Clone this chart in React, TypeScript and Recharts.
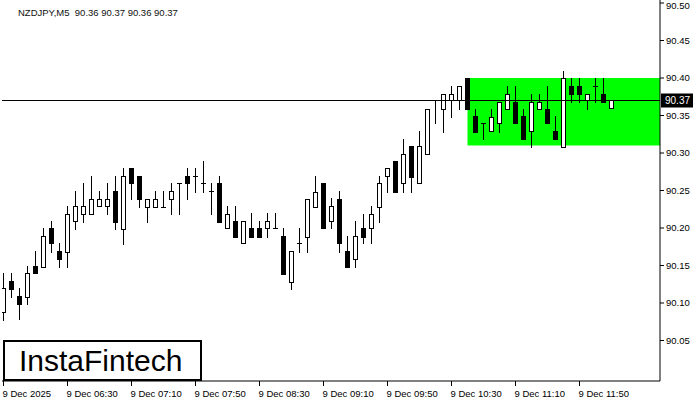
import React from 'react';
import { ComposedChart, Bar, XAxis, YAxis, ReferenceArea, ReferenceLine } from 'recharts';

const symbol = 'NZDJPY,M5';
const lastQuote = ['90.36', '90.37', '90.36', '90.37'];

// M5 candles, 05:50 .. 12:10
const opens = [
  90.088, 90.129, 90.109, 90.108, 90.149, 90.148, 90.2, 90.169, 90.168, 90.209,
  90.219, 90.219, 90.229, 90.229, 90.249, 90.199, 90.28, 90.269, 90.228, 90.228,
  90.228, 90.239, 90.26, 90.269, 90.269, 90.26, 90.249, 90.26, 90.2, 90.209,
  90.18, 90.2, 90.2, 90.2, 90.2, 90.189, 90.128, 90.18, 90.188, 90.228,
  90.26, 90.209, 90.239, 90.169, 90.159, 90.2, 90.2, 90.228, 90.269, 90.289,
  90.26, 90.309, 90.26, 90.299, 90.37, 90.359, 90.37, 90.37, 90.4, 90.349,
  90.34, 90.329, 90.34, 90.359, 90.368, 90.349, 90.329, 90.359, 90.359, 90.329,
  90.308, 90.389, 90.389, 90.37, 90.389, 90.379, 90.36,
];
const highs = [
  90.14, 90.14, 90.12, 90.149, 90.169, 90.2, 90.209, 90.18, 90.229, 90.249,
  90.26, 90.269, 90.249, 90.26, 90.269, 90.28, 90.28, 90.269, 90.239, 90.249,
  90.249, 90.26, 90.26, 90.28, 90.28, 90.289, 90.26, 90.269, 90.229, 90.229,
  90.209, 90.22, 90.209, 90.22, 90.22, 90.2, 90.169, 90.2, 90.239, 90.269,
  90.26, 90.24, 90.249, 90.189, 90.209, 90.219, 90.229, 90.269, 90.28, 90.289,
  90.319, 90.309, 90.329, 90.359, 90.37, 90.379, 90.389, 90.389, 90.4, 90.359,
  90.34, 90.359, 90.368, 90.389, 90.389, 90.359, 90.379, 90.379, 90.389, 90.349,
  90.409, 90.4, 90.4, 90.379, 90.4, 90.4, 90.37,
];
const lows = [
  90.077, 90.108, 90.079, 90.099, 90.14, 90.148, 90.168, 90.148, 90.148, 90.199,
  90.208, 90.219, 90.229, 90.219, 90.199, 90.179, 90.239, 90.228, 90.208, 90.228,
  90.228, 90.219, 90.219, 90.239, 90.248, 90.248, 90.219, 90.208, 90.2, 90.188,
  90.18, 90.188, 90.188, 90.188, 90.2, 90.139, 90.119, 90.168, 90.168, 90.228,
  90.2, 90.2, 90.168, 90.148, 90.148, 90.18, 90.18, 90.208, 90.248, 90.248,
  90.248, 90.248, 90.26, 90.299, 90.34, 90.328, 90.348, 90.359, 90.359, 90.328,
  90.319, 90.329, 90.328, 90.359, 90.34, 90.319, 90.308, 90.359, 90.34, 90.319,
  90.308, 90.368, 90.368, 90.359, 90.368, 90.368, 90.36,
];
const closes = [
  90.12, 90.119, 90.099, 90.14, 90.14, 90.189, 90.18, 90.159, 90.219, 90.229,
  90.229, 90.239, 90.239, 90.239, 90.208, 90.269, 90.26, 90.239, 90.239, 90.239,
  90.228, 90.249, 90.26, 90.26, 90.269, 90.26, 90.249, 90.208, 90.219, 90.188,
  90.209, 90.188, 90.188, 90.209, 90.2, 90.139, 90.169, 90.18, 90.239, 90.248,
  90.2, 90.229, 90.18, 90.148, 90.189, 90.188, 90.219, 90.26, 90.28, 90.248,
  90.299, 90.268, 90.309, 90.359, 90.37, 90.379, 90.379, 90.389, 90.359, 90.328,
  90.34, 90.348, 90.368, 90.379, 90.34, 90.319, 90.368, 90.368, 90.34, 90.319,
  90.4, 90.379, 90.379, 90.379, 90.389, 90.368, 90.37,
];

const timeTicks = [0, 8, 16, 24, 32, 40, 48, 56, 64, 72];
const timeLabels = [
  '9 Dec 2025', '9 Dec 06:30', '9 Dec 07:10', '9 Dec 07:50', '9 Dec 08:30',
  '9 Dec 09:10', '9 Dec 09:50', '9 Dec 10:30', '9 Dec 11:10', '9 Dec 11:50',
];
const priceTicks = [90.05, 90.1, 90.15, 90.2, 90.25, 90.3, 90.35, 90.4, 90.45, 90.5];
const currentPrice = 90.37;
const zoneStart = 58;
const zoneTop = 90.4;
const zoneBottom = 90.31;

const xDomain = [-0.1875, 82.0625];
const yDomain = [89.996, 90.504];

const rows = opens.map((o, i) => ({
  t: i,
  range: [lows[i], highs[i]],
  o,
  h: highs[i],
  l: lows[i],
  c: closes[i],
}));

const axisFont = '"Liberation Sans", Arial, sans-serif';

const Candle = (props: any) => {
  const { x, y, width, height, payload } = props;
  if (!payload) return null;
  const { o, h, l, c } = payload;
  const k = h - l > 0 ? height / (h - l) : 0;
  const py = (p: number) => y + (h - p) * k;
  const cx = Math.floor(x + width / 2) + 0.5;
  const top = Math.round(py(Math.max(o, c))) + 0.5;
  const bot = Math.round(py(Math.min(o, c))) + 0.5;
  return (
    <g>
      <line x1={cx} x2={cx} y1={Math.round(py(h))} y2={Math.round(py(l)) + 1} stroke="#000" />
      {bot - top < 1 ? (
        <line x1={cx - 2.5} x2={cx + 2.5} y1={top} y2={top} stroke="#000" />
      ) : (
        <rect x={cx - 2} y={top} width={4} height={bot - top} fill={c >= o ? '#fff' : '#000'} stroke="#000" />
      )}
    </g>
  );
};

const TimeTick = (props: any) => {
  const { x, y, payload } = props;
  const idx = timeTicks.indexOf(payload.value);
  return (
    <text x={x - 1} y={y} dy={9} fontSize={9.5} fontFamily={axisFont} fill="#000" textAnchor="start">
      {timeLabels[idx]}
    </text>
  );
};

const PriceTick = (props: any) => {
  const { x, y, payload } = props;
  return (
    <text x={x} y={Math.max(y, 6)} dy="0.355em" fontSize={9.5} fontFamily={axisFont} fill="#000" textAnchor="start">
      {Number(payload.value).toFixed(2)}
    </text>
  );
};

const PriceTag = (props: any) => {
  const vb = props.viewBox || {};
  const left = vb.x + vb.width + 1;
  return (
    <g>
      <rect x={left} y={vb.y - 7} width={32} height={14} fill="#000" />
      <text x={left + 4} y={vb.y} dy="0.355em" fontSize={10} fontFamily={axisFont} fill="#fff">
        {currentPrice.toFixed(2)}
      </text>
    </g>
  );
};

export default function App() {
  return (
    <div style={{ position: 'relative', width: 700, height: 400, background: '#fff' }}>
      <style>{'body{margin:0}'}</style>
      <ComposedChart width={700} height={400} data={rows} margin={{ top: 0, right: 0, left: 2, bottom: 0 }}>
        <ReferenceArea
          x1={zoneStart}
          x2={xDomain[1]}
          y1={zoneBottom}
          y2={zoneTop}
          fill="#00ff00"
          fillOpacity={1}
          stroke="none"
          ifOverflow="extendDomain"
        />
        <XAxis
          dataKey="t"
          type="number"
          domain={xDomain}
          allowDataOverflow
          ticks={timeTicks}
          interval={0}
          tickSize={5}
          height={19}
          stroke="#000"
          tick={<TimeTick />}
        />
        <YAxis
          orientation="right"
          type="number"
          domain={yDomain}
          allowDataOverflow
          ticks={priceTicks}
          interval={0}
          width={40}
          tickSize={4}
          stroke="#000"
          tick={<PriceTick />}
        />
        <YAxis
          yAxisId="frame"
          orientation="left"
          type="number"
          domain={yDomain}
          allowDataOverflow
          width={0}
          tick={false}
          tickLine={false}
          stroke="#000"
        />
        <Bar dataKey="range" barSize={6} shape={<Candle />} isAnimationActive={false} />
        <ReferenceLine y={currentPrice} stroke="#000" strokeWidth={1} label={<PriceTag />} />
      </ComposedChart>
      <div
        style={{
          position: 'absolute',
          left: 0,
          top: 0,
          width: 190,
          height: 24,
          background: '#fff',
          fontFamily: axisFont,
          fontSize: 9.5,
          color: '#111',
          whiteSpace: 'pre',
          paddingLeft: 18,
          paddingTop: 7,
          boxSizing: 'border-box',
        }}
      >
        {`${symbol}  ${lastQuote.join(' ')}`}
      </div>
      <div
        style={{
          position: 'absolute',
          left: 3,
          top: 340,
          width: 199,
          height: 41,
          border: '2px solid #000',
          boxSizing: 'border-box',
          background: '#fff',
          fontFamily: axisFont,
          fontSize: 30,
          lineHeight: '37px',
          paddingLeft: 14,
          color: '#000',
        }}
      >
        InstaFintech
      </div>
    </div>
  );
}
